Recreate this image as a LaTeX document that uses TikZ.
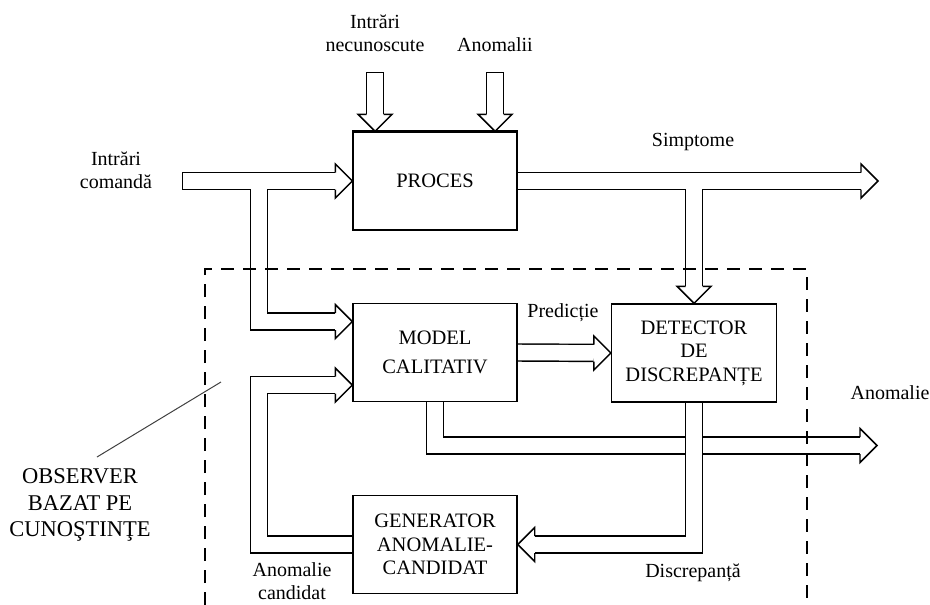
\documentclass[tikz,border=0pt]{standalone}
\usepackage{fontspec}
\setmainfont{Liberation Serif}
\usetikzlibrary{backgrounds}
\tikzset{
  lw/.style={line width=1.45pt},
  boxnode/.style={draw, lw, minimum width=164pt, minimum height=98pt, align=center, inner sep=0pt, font=\fontsize{20.5}{23.5}\selectfont},
  lbl/.style={align=center, inner sep=0pt, font=\fontsize{20}{23}\selectfont},
  biglbl/.style={align=center, inner sep=0pt, font=\fontsize{22.5}{26.5}\selectfont},
  shaftB/.style={line width=18.45pt, black, line join=miter},
  shaftW/.style={line width=15.55pt, white, line join=miter},
  dashbox/.style={line width=1.6pt, dash pattern=on 13pt off 9pt},
  pointer/.style={line width=1pt, black!75},
}
\newcommand\ahead[2]{%
  \begin{scope}[shift={(#1)}, rotate=#2]
    \fill[white] (-17pt,-8.5pt) -- (-17pt,-17pt) -- (0pt,0pt) -- (-17pt,17pt) -- (-17pt,8.5pt) -- cycle;
    \draw[lw, line join=miter] (-17pt,-8.5pt) -- (-17pt,-17pt) -- (0pt,0pt) -- (-17pt,17pt) -- (-17pt,8.5pt);
  \end{scope}}
\begin{document}
\begin{tikzpicture}[x=1pt,y=-1pt]
\useasboundingbox (0,0) rectangle (930,605);
% boxes
\node[boxnode] (proc) at (435,181) {PROCES};
\node[boxnode] (model) at (435,352.5) {MODEL\\[6pt]CALITATIV};
\node[boxnode, minimum width=165pt] (det) at (694,353) {DETECTOR\\DE\\DISCREPANȚE};
\node[boxnode] (gen) at (435,544.5) {GENERATOR\\ANOMALIE-\\CANDIDAT};
\draw[line width=2.2pt] (proc.north west) -- (proc.north east);
% coordinates
\coordinate (cmdin) at (182,181);
\coordinate (split1) at (259,181);
\coordinate (in2) at ([yshift=31pt]model.west);
\coordinate (simout) at (878,181);
\coordinate (split2) at (det.north |- proc.east);
\coordinate (top1) at (375,72);
\coordinate (top2) at (495,72);
\coordinate (t1e) at (top1 |- proc.north);
\coordinate (t2e) at (top2 |- proc.north);
\coordinate (anomout) at (877,445.5);
\coordinate (fbx) at (259,0);
\coordinate (in3) at ([yshift=-32.5pt]model.west);
\coordinate (fb1) at (gen.west -| fbx);
\coordinate (fb2) at (fbx |- in3);
\begin{scope}[on background layer]
  % command inputs
  \draw[shaftB, shorten >=17pt] (cmdin) -- (proc.west);
  \draw[shaftB, shorten >=17pt] (split1) |- (in2);
  \draw[shaftW, shorten >=17pt, shorten <=1.45pt] (cmdin) -- (proc.west);
  \draw[shaftW, shorten >=17pt] (split1) |- (in2);
  \ahead{proc.west}{0}
  \ahead{in2}{0}
  % symptoms
  \draw[shaftB, shorten >=17pt] (proc.east) -- (simout);
  \draw[shaftB, shorten >=17pt] (split2) -- (det.north);
  \draw[shaftW, shorten >=17pt] (proc.east) -- (simout);
  \draw[shaftW, shorten >=17pt] (split2) -- (det.north);
  \ahead{simout}{0}
  \ahead{det.north}{-90}
  % unknown inputs and anomalies
  \draw[shaftB, shorten >=17pt] (top1) -- (t1e);
  \draw[shaftW, shorten >=17pt, shorten <=1.45pt] (top1) -- (t1e);
  \ahead{t1e}{-90}
  \draw[shaftB, shorten >=17pt] (top2) -- (t2e);
  \draw[shaftW, shorten >=17pt, shorten <=1.45pt] (top2) -- (t2e);
  \ahead{t2e}{-90}
  % prediction
  \draw[shaftB, shorten >=17pt] (model.east) -- (det.west);
  \draw[shaftW, shorten >=17pt] (model.east) -- (det.west);
  \ahead{det.west}{0}
  % anomaly output
  \draw[shaftB, shorten >=17pt] (model.south) |- (anomout);
  \draw[shaftW, shorten >=17pt] (model.south) |- (anomout);
  \ahead{anomout}{0}
  % discrepancy
  \draw[shaftB, shorten >=17pt] (det.south) |- (gen.east);
  \draw[shaftW, shorten >=17pt] (det.south) |- (gen.east);
  \ahead{gen.east}{180}
  % candidate anomaly feedback
  \draw[shaftB, shorten >=17pt] (gen.west) -- (fb1) -- (fb2) -- (in3);
  \draw[shaftW, shorten >=17pt] (gen.west) -- (fb1) -- (fb2) -- (in3);
  \ahead{in3}{0}
\end{scope}
% dashed observer boundary
\draw[dashbox] (205,605) -- (205,269) -- (807,269) -- (807,605);
\draw[pointer] (97,457) -- (221,382);
% labels
\node[lbl] (lunk) at (375,33) {Intrări\\necunoscute};
\node[lbl] (lanomi) at (495,45) {Anomalii};
\node[lbl] (lcmd) at (116,170) {Intrări\\comandă};
\node[lbl] (lsim) at (693,142) {Simptome};
\node[lbl] (lpred) at (563,313) {Predicție};
\node[lbl] (lanom) at (890,393) {Anomalie};
\node[lbl] (ldisc) at (693,573) {Discrepanță};
\node[lbl] (lcand) at (292,581) {Anomalie\\candidat};
\node[biglbl] (lobs) at (80,505) {OBSERVER\\BAZAT PE\\CUNOŞTINŢE};
\end{tikzpicture}
\end{document}
